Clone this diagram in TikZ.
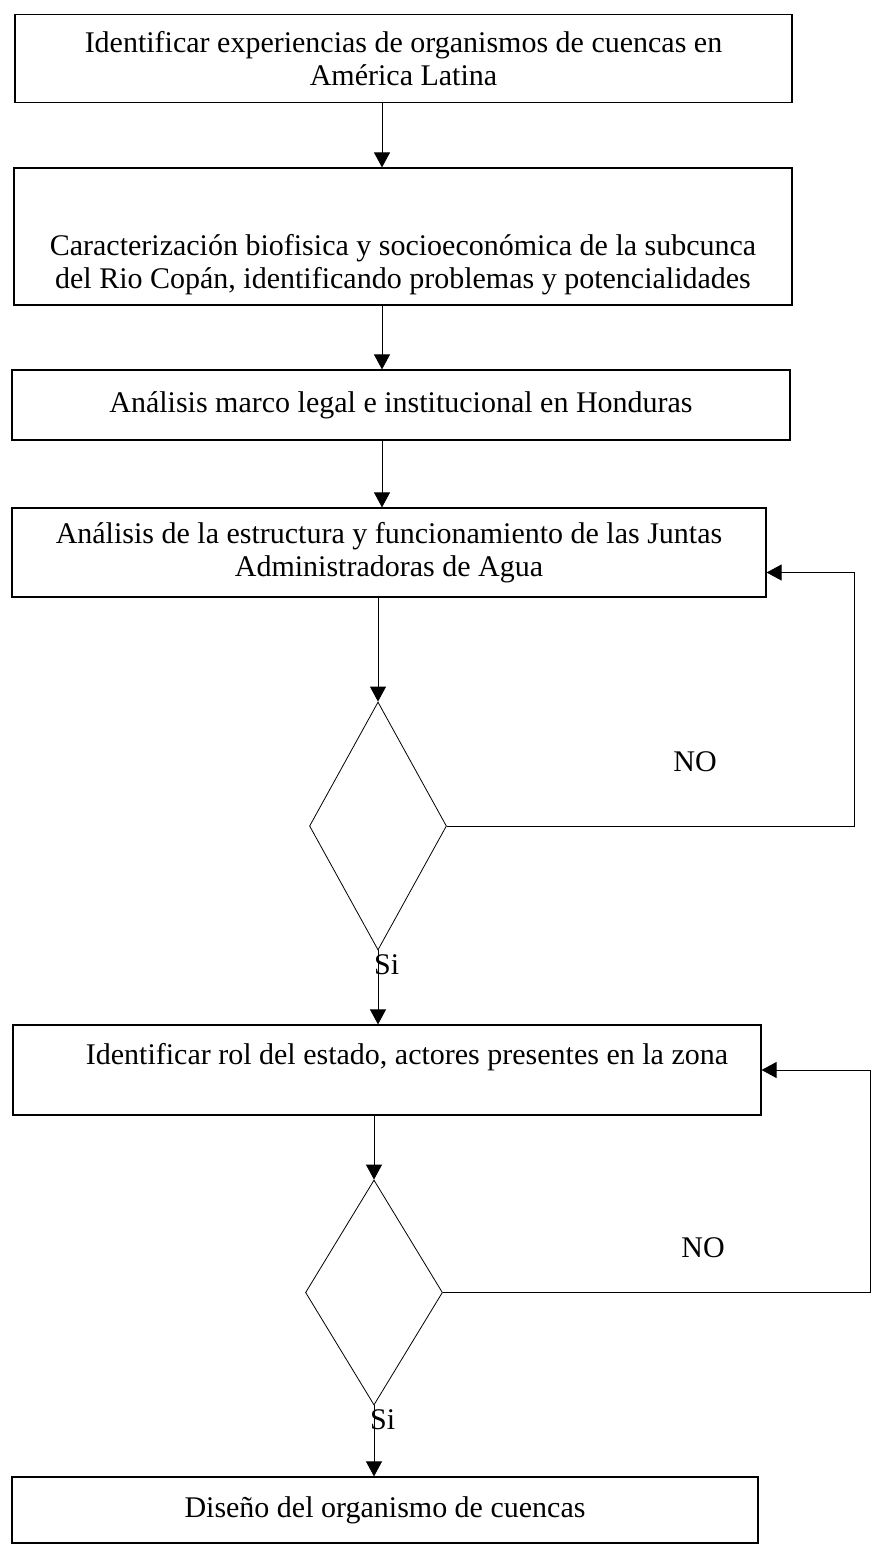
\documentclass[tikz,border=0pt]{standalone}
\usepackage{fontspec}
\setmainfont{Liberation Serif}
\usetikzlibrary{shapes.geometric,arrows.meta}

\begin{document}
\begin{tikzpicture}[x=1pt,y=-1pt,
    caja/.style={draw,line width=1.2pt,align=center,inner sep=0pt,font=\fontsize{30}{33}\selectfont},
    rombo/.style={draw,diamond,line width=0.8pt,inner sep=0pt,minimum width=137pt},
    flecha/.style={line width=0.8pt,-{Triangle[width=16pt,length=15pt]}},
    etiq/.style={font=\fontsize{30}{33}\selectfont}]
  \useasboundingbox (0,0) rectangle (873,1545);

  \node[caja,minimum width=777pt,minimum height=88pt] (b1) at (403.5,58.5)
    {Identificar experiencias de organismos de cuencas en\\Am\'erica Latina};
  \node[caja,minimum width=778pt,minimum height=137pt] (b2) at (403,236.5)
    {\mbox{}\\[44pt]Caracterizaci\'on biofisica y socioecon\'omica de la subcunca\\del Rio Cop\'an, identificando problemas y potencialidades};
  \node[caja,minimum width=778pt,minimum height=70pt] (b3) at (401,405)
    {An\'alisis marco legal e institucional en Honduras};
  \node[caja,minimum width=754pt,minimum height=89pt] (b4) at (389,552.5)
    {An\'alisis de la estructura y funcionamiento de las Juntas\\Administradoras de Agua};
  \node[rombo,minimum height=248pt] (d1) at (378,826) {};
  \node[caja,minimum width=748pt,minimum height=90pt] (b5) at (387,1070)
    {\hspace*{40pt}Identificar rol del estado, actores presentes en la zona\\\mbox{}};
  \node[rombo,minimum height=225pt] (d2) at (374,1292.5) {};
  \node[caja,minimum width=746pt,minimum height=66pt] (b6) at (385,1510)
    {Dise\~no del organismo de cuencas};

  \node[etiq] (no1) at (695,762) {NO};
  \node[etiq] (no2) at (703,1248) {NO};
  \node[etiq,anchor=north west,inner sep=0pt] (si1) at ([xshift=-4pt,yshift=-4pt]d1.south) {Si};
  \node[etiq,anchor=north west,inner sep=0pt] (si2) at ([xshift=-4pt,yshift=-4pt]d2.south) {Si};

  \coordinate (eje) at (382,0);
  \coordinate (v1) at (854,0);
  \coordinate (v2) at (870,0);

  \draw[flecha] (b1.south -| eje) -- (b2.north -| eje);
  \draw[flecha] (b2.south -| eje) -- (b3.north -| eje);
  \draw[flecha] (b3.south -| eje) -- (b4.north -| eje);
  \draw[flecha] (b4.south -| d1.north) -- (d1.north);
  \draw[flecha] (d1.south) -- (b5.north -| d1.south);
  \draw[flecha] (b5.south -| d2.north) -- (d2.north);
  \draw[flecha] (d2.south) -- (b6.north -| d2.south);

  \draw[flecha] (d1.east) -- (d1.east -| v1) |- ([yshift=-20pt]b4.east);
  \draw[flecha] (d2.east) -- (d2.east -| v2) |- (b5.east);
\end{tikzpicture}
\end{document}
